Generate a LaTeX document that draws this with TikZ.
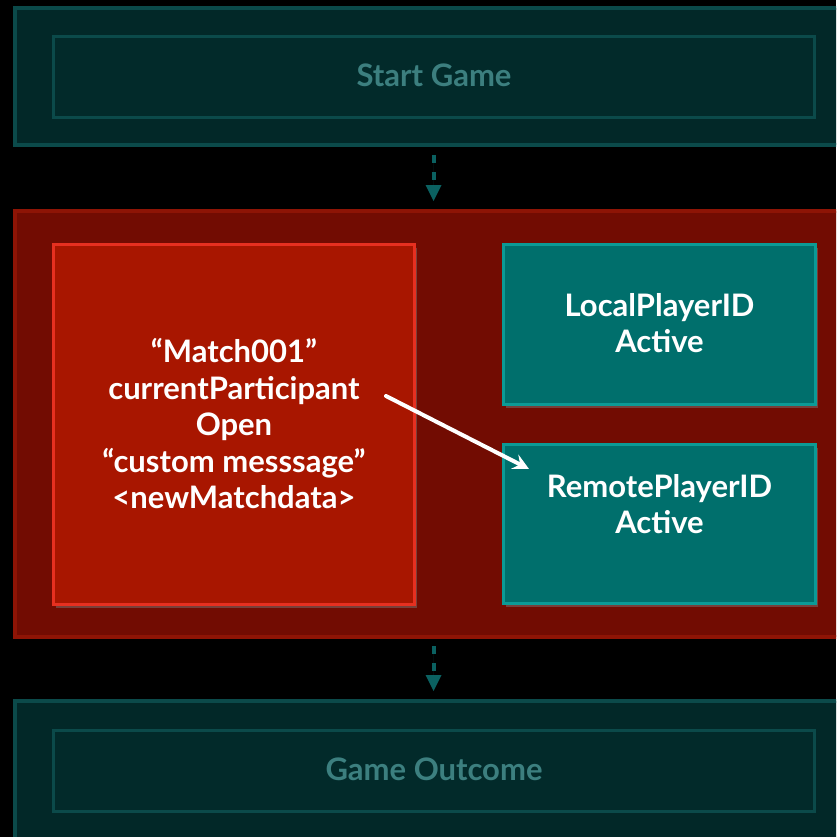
\documentclass[tikz,border=0pt]{standalone}
\usepackage{fontspec}
\setmainfont{Lato}
\usetikzlibrary{arrows.meta,shadows}
\definecolor{bgblack}{HTML}{000000}
\definecolor{stagefill}{HTML}{022828}
\definecolor{stageedge}{HTML}{0B4A4A}
\definecolor{stagetext}{HTML}{3C7F7F}
\definecolor{flowteal}{HTML}{0B6161}
\definecolor{turnfill}{HTML}{720C02}
\definecolor{turnedge}{HTML}{8E1405}
\definecolor{matchfill}{HTML}{A81600}
\definecolor{matchedge}{HTML}{E63020}
\definecolor{playerfill}{HTML}{006F6C}
\definecolor{playeredge}{HTML}{0C9A96}
\tikzset{
  box/.style={rectangle, inner sep=0pt, outer sep=0pt},
  stageouter/.style={box, fill=stagefill, draw=stageedge, line width=4pt},
  stageinner/.style={box, fill=stagefill!95!stageedge, draw=stageedge, line width=3pt},
  stagelabel/.style={text=stagetext, font=\bfseries\fontsize{31}{36}\selectfont},
  turnouter/.style={box, fill=turnfill, draw=turnedge, line width=4pt},
  matchbox/.style={box, fill=matchfill, draw=matchedge, line width=3pt,
    drop shadow={opacity=0.45, shadow xshift=2pt, shadow yshift=-3pt}},
  playerbox/.style={box, fill=playerfill, draw=playeredge, line width=3pt,
    drop shadow={opacity=0.45, shadow xshift=2pt, shadow yshift=-3pt}},
  boxtext/.style={text=white, align=center, font=\bfseries\fontsize{31}{36.5}\selectfont},
  flow/.style={draw=flowteal, line width=4pt, dash pattern=on 8pt off 9pt,
    -{Triangle[length=16pt, width=16pt, line width=0pt]}, fill=flowteal},
  handoff/.style={draw=white, line width=4pt, line cap=round,
    -{Stealth[length=16pt, width=16pt, inset=6pt]}}
}
\begin{document}
\begin{tikzpicture}[x=1pt, y=-1pt]
  \fill[bgblack] (0,0) rectangle (836,837);
  \useasboundingbox (0,0) rectangle (836,837);
  \clip (0,0) rectangle (836,837);

  % first stage
  \node[stageouter, minimum width=885pt, minimum height=137pt] (startouter) at (457.5,76.5) {};
  \node[stageinner, minimum width=761pt, minimum height=81pt] (startinner) at (434,77) {};
  \node[stagelabel] (starttext) at (434,75) {Start Game};

  % turn in progress
  \node[turnouter, minimum width=885pt, minimum height=426pt] (turn) at (457.5,424) {};
  \node[matchbox, minimum width=361pt, minimum height=360pt] (match) at (234,424.5) {};
  \node[boxtext] (matchtext) at (234,424) {“Match001”\\currentParticipant\\Open\\“custom messsage”\\<newMatchdata>};
  \node[playerbox, minimum width=312pt, minimum height=160pt] (local) at (659.5,324.5) {};
  \node[boxtext] (localtext) at (659.5,323) {LocalPlayerID\\Active};
  \node[playerbox, minimum width=312pt, minimum height=159pt] (remote) at (659.5,524) {};
  \node[boxtext] (remotetext) at (659.5,504) {RemotePlayerID\\Active};

  % last stage
  \node[stageouter, minimum width=885pt, minimum height=199pt] (endouter) at (457.5,800.5) {};
  \node[stageinner, minimum width=761pt, minimum height=81pt] (endinner) at (434,771) {};
  \node[stagelabel] (endtext) at (434,769) {Game Outcome};

  % turn handed to the next participant
  \coordinate (handfrom) at (386,396);
  \coordinate (handto) at (529,469);
  \draw[handoff] (handfrom) -- (handto);

  % flow between stages
  \coordinate (flowA) at (433.5,155);
  \coordinate (flowB) at (433.5,201);
  \coordinate (flowC) at (433.5,646);
  \coordinate (flowD) at (433.5,691);
  \draw[flow] (flowA) -- (flowB);
  \draw[flow] (flowC) -- (flowD);
\end{tikzpicture}
\end{document}
